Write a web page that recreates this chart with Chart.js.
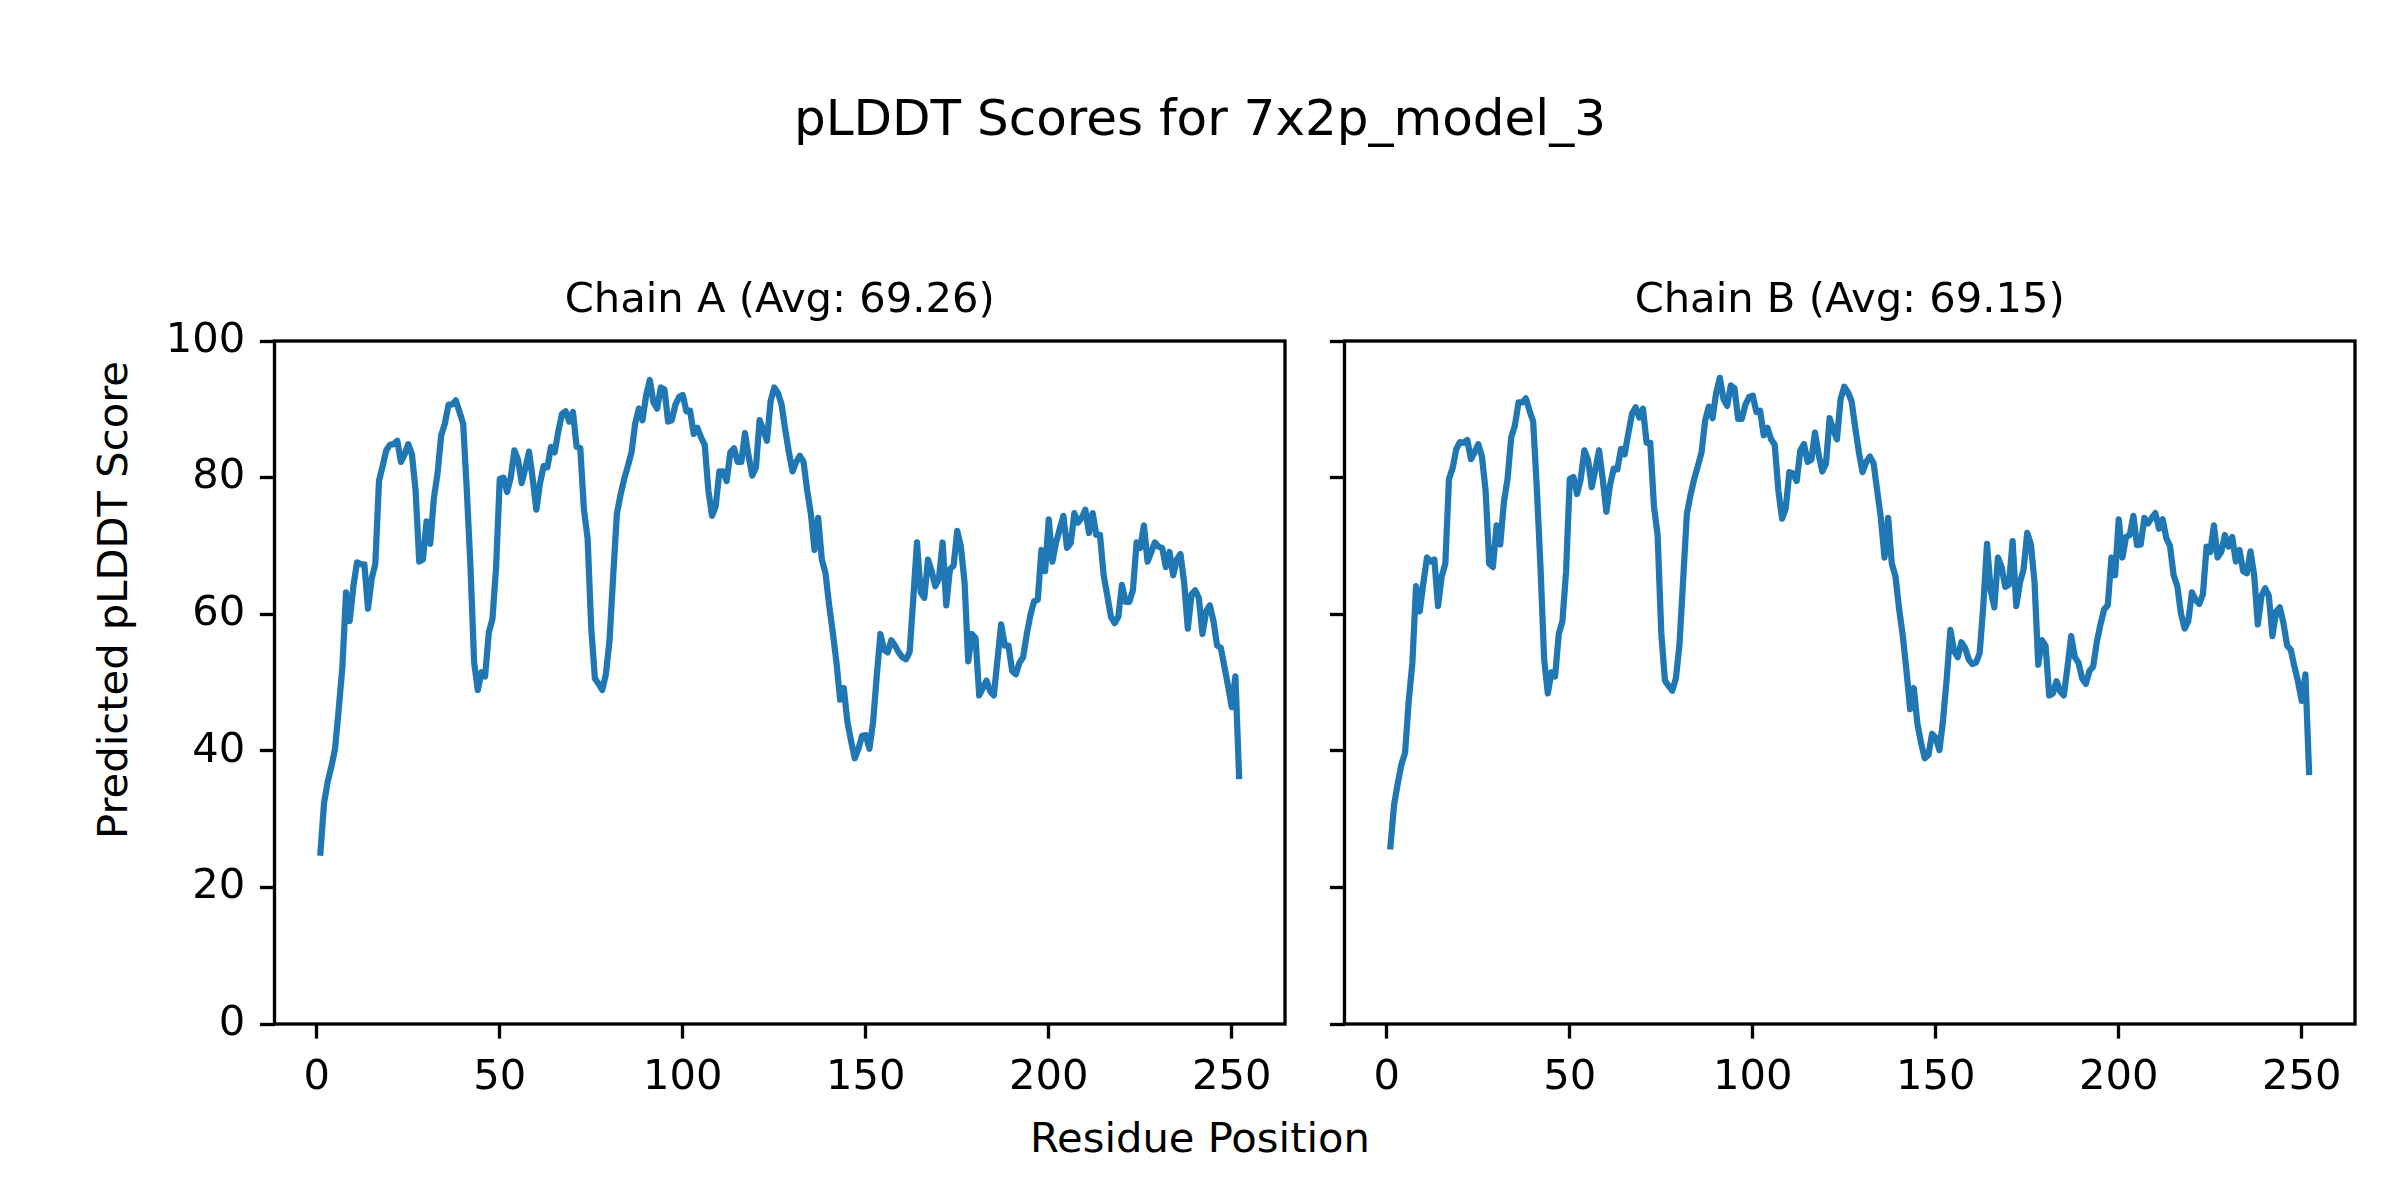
<!DOCTYPE html>
<html>
<head>
<meta charset="utf-8">
<script src="https://cdn.jsdelivr.net/npm/chart.js"></script>
<style>
  html, body { margin: 0; padding: 0; background: #fff; }
  body { width: 2400px; height: 1200px; position: relative; overflow: hidden; font-family: 'DejaVu Sans', sans-serif; color: #000; }
  canvas { position: absolute; top: 0; }
  .figtext { position: absolute; white-space: nowrap; line-height: 1; }
  #suptitle { left: 0; width: 2400px; text-align: center; top: 93px; font-size: 50px; }
  #supxlabel { left: 0; width: 2400px; text-align: center; top: 1117px; font-size: 41.67px; }
  #supylabel { left: 112.6px; top: 600px; font-size: 41.67px; transform: translate(-50%, -50%) rotate(-90deg); }
</style>
</head>
<body>
<div id="suptitle" class="figtext">pLDDT Scores for 7x2p_model_3</div>
<div id="supxlabel" class="figtext">Residue Position</div>
<div id="supylabel" class="figtext">Predicted pLDDT Score</div>
<canvas id="chainA" width="1320" height="1200" style="left:0px"></canvas>
<canvas id="chainB" width="1320" height="1200" style="left:1070px"></canvas>
<script>
const chainTitles = ['Chain A (Avg: 69.26)', 'Chain B (Avg: 69.15)'];
const xTicks = [0, 50, 100, 150, 200, 250];
const yTicks = [0, 20, 40, 60, 80, 100];

// pLDDT per residue
const chainA = [
  25.1, 32.4, 35.5, 37.7, 40.3, 46.1, 52.3, 63.2, 59.0, 64.1,
  67.6, 67.3, 67.3, 60.8, 65.2, 67.4, 79.5, 81.7, 84.0, 84.8,
  84.9, 85.4, 82.3, 83.4, 84.9, 83.4, 78.1, 67.7, 68.0, 73.6,
  70.3, 77.0, 80.6, 86.2, 87.9, 90.7, 90.7, 91.3, 89.6, 87.9,
  78.1, 66.9, 52.9, 48.9, 51.5, 50.9, 57.3, 59.3, 66.9, 79.8,
  80.0, 77.9, 80.0, 84.0, 82.6, 79.2, 81.4, 83.8, 79.8, 75.3,
  79.2, 81.7, 81.5, 84.5, 83.7, 86.8, 89.3, 89.7, 88.2, 89.6,
  84.5, 84.3, 75.3, 71.1, 57.9, 50.6, 49.8, 48.9, 51.2, 56.2,
  65.7, 74.7, 77.5, 79.8, 81.7, 83.7, 87.9, 90.1, 88.4, 92.1,
  94.3, 91.0, 90.1, 93.2, 92.9, 88.2, 88.4, 90.7, 91.8, 92.1,
  89.7, 89.8, 86.4, 87.3, 85.9, 84.8, 78.1, 74.4, 75.8, 80.9,
  80.9, 79.5, 83.7, 84.3, 82.3, 82.3, 86.5, 83.1, 80.3, 81.5,
  88.4, 87.0, 85.4, 91.2, 93.2, 92.4, 90.7, 87.0, 83.7, 80.9,
  82.3, 83.2, 82.3, 78.1, 74.7, 69.4, 74.1, 68.0, 66.0, 61.3,
  57.3, 52.9, 47.5, 49.2, 44.2, 41.4, 38.9, 40.3, 42.2, 42.3,
  40.3, 44.2, 50.9, 57.1, 54.8, 54.4, 56.2, 55.4, 54.4, 53.7,
  53.4, 54.5, 62.4, 70.5, 63.2, 62.4, 68.0, 66.3, 64.1, 65.2,
  70.5, 61.3, 66.6, 67.1, 72.2, 69.9, 64.6, 53.1, 57.1, 56.5,
  48.1, 49.2, 50.3, 48.7, 48.1, 53.4, 58.5, 55.4, 55.4, 51.7,
  51.2, 52.9, 53.7, 57.1, 59.9, 61.9, 62.1, 69.4, 66.3, 73.9,
  67.7, 70.5, 72.5, 74.4, 69.7, 70.4, 74.8, 73.4, 74.1, 75.3,
  71.9, 74.8, 71.6, 71.6, 65.7, 62.7, 59.6, 58.7, 59.6, 64.3,
  61.8, 61.8, 63.5, 70.5, 69.7, 73.0, 67.7, 69.1, 70.5, 69.9,
  69.7, 66.9, 69.1, 65.7, 68.0, 68.8, 64.6, 57.9, 62.9, 63.5,
  62.4, 57.1, 60.4, 61.3, 59.0, 55.4, 55.1, 52.3, 49.5, 46.4,
  50.9, 36.3
];

const chainB = [
  26.0, 32.1, 35.2, 38.0, 39.7, 47.3, 52.9, 64.1, 60.4, 64.6,
  68.3, 67.7, 68.0, 61.2, 65.5, 67.4, 79.8, 81.4, 84.2, 85.2,
  85.1, 85.5, 82.7, 83.7, 84.9, 83.1, 78.1, 67.4, 66.9, 73.0,
  70.2, 76.4, 79.8, 85.9, 87.6, 91.0, 91.0, 91.6, 89.8, 88.2,
  78.4, 66.9, 53.4, 48.4, 51.5, 50.9, 57.1, 59.0, 66.3, 79.8,
  80.1, 77.6, 79.8, 84.0, 82.6, 78.6, 81.2, 84.0, 79.8, 75.0,
  78.9, 81.3, 81.2, 84.2, 83.4, 86.5, 89.3, 90.3, 88.8, 90.1,
  85.1, 85.1, 75.8, 71.6, 57.3, 50.3, 49.5, 48.8, 50.6, 55.7,
  65.2, 74.7, 77.5, 79.8, 81.7, 83.7, 88.4, 90.4, 88.7, 92.4,
  94.6, 91.5, 90.5, 93.5, 93.1, 88.6, 88.6, 90.7, 91.8, 92.0,
  89.6, 89.8, 86.2, 87.3, 85.6, 84.8, 78.1, 74.0, 75.5, 80.8,
  80.6, 79.5, 84.0, 84.9, 82.3, 82.6, 86.6, 83.4, 80.9, 82.0,
  88.7, 87.0, 85.6, 91.5, 93.3, 92.5, 91.2, 87.3, 83.7, 80.8,
  82.3, 83.1, 82.1, 78.1, 74.1, 68.3, 74.1, 67.4, 65.5, 60.7,
  56.8, 51.7, 46.1, 49.2, 43.9, 41.1, 38.9, 39.4, 42.5, 41.9,
  40.1, 44.5, 50.6, 57.7, 54.6, 53.7, 55.9, 55.1, 53.4, 52.7,
  52.9, 54.3, 61.3, 70.3, 63.5, 61.0, 68.3, 66.9, 64.0, 64.3,
  70.7, 61.2, 64.6, 66.6, 71.9, 70.2, 64.6, 52.6, 56.2, 55.4,
  48.1, 48.4, 50.2, 48.7, 48.1, 52.3, 56.8, 53.7, 52.9, 50.6,
  49.8, 51.7, 52.3, 55.9, 58.5, 60.7, 61.3, 68.3, 65.7, 73.9,
  68.3, 71.3, 71.6, 74.4, 70.1, 70.2, 74.1, 73.3, 74.1, 74.8,
  72.5, 73.9, 71.1, 70.0, 65.7, 64.1, 60.1, 57.9, 59.0, 63.2,
  62.1, 61.5, 62.9, 69.9, 69.1, 73.0, 68.3, 69.1, 71.6, 69.9,
  71.3, 67.7, 69.4, 66.3, 66.0, 69.2, 65.7, 58.5, 62.7, 63.8,
  62.7, 56.8, 60.4, 61.0, 58.7, 55.4, 54.8, 52.3, 50.1, 47.3,
  51.2, 36.9
];

const FONT = "'DejaVu Sans'";
const LW = 3.33; // 0.8pt at 300 dpi

// spines on all four sides
const frame = {
  id: 'frame',
  afterDatasetsDraw(chart) {
    const { ctx, chartArea: a } = chart;
    ctx.save();
    ctx.strokeStyle = '#000';
    ctx.lineWidth = LW;
    ctx.strokeRect(a.left, a.top, a.right - a.left, a.bottom - a.top);
    ctx.restore();
  }
};

function makeChart(id, title, values, showYLabels) {
  const n = values.length;
  const pad = 0.05 * (n - 1);
  const points = values.map((v, i) => ({ x: i + 1, y: v }));
  const tickGrid = {
    display: true, drawOnChartArea: false, drawTicks: true,
    tickLength: 14.6, tickWidth: LW, tickColor: '#000'
  };
  return new Chart(document.getElementById(id), {
    type: 'line',
    data: {
      datasets: [{
        data: points,
        borderColor: '#1f77b4',
        borderWidth: 6.25,
        borderJoinStyle: 'round',
        borderCapStyle: 'square',
        pointRadius: 0,
        tension: 0,
        fill: false
      }]
    },
    options: {
      responsive: false,
      devicePixelRatio: 1,
      animation: false,
      events: [],
      layout: { padding: { left: 0, right: 35, top: 0, bottom: 76 } },
      plugins: {
        legend: { display: false },
        tooltip: { enabled: false },
        title: {
          display: true,
          fullSize: false,
          text: title,
          color: '#000',
          font: { family: FONT, size: 41.67, weight: 'normal' },
          padding: { top: 276.6, bottom: 14.4 }
        }
      },
      scales: {
        x: {
          type: 'linear',
          min: 1 - pad,
          max: n + pad,
          border: { display: false },
          grid: tickGrid,
          afterBuildTicks: s => { s.ticks = xTicks.map(v => ({ value: v })); },
          afterFit: s => { s.height = 100; },
          ticks: {
            color: '#000',
            padding: 14.6,
            maxRotation: 0,
            font: { family: FONT, size: 41.67 },
            callback: v => String(v)
          }
        },
        y: {
          type: 'linear',
          min: 0,
          max: 100,
          border: { display: false },
          grid: tickGrid,
          afterBuildTicks: s => { s.ticks = yTicks.map(v => ({ value: v })); },
          afterFit: s => { s.width = 274.5; },
          ticks: {
            display: showYLabels,
            color: '#000',
            padding: 14.6,
            font: { family: FONT, size: 41.67 },
            callback: v => String(v)
          }
        }
      }
    },
    plugins: [frame]
  });
}

makeChart('chainA', chainTitles[0], chainA, true);
makeChart('chainB', chainTitles[1], chainB, false);
</script>
</body>
</html>
